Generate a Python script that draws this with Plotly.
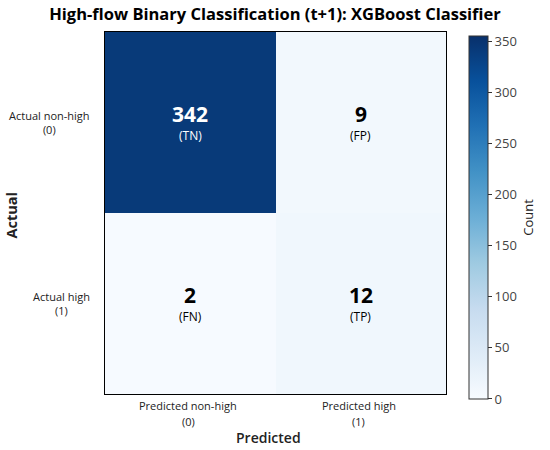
import plotly.graph_objects as go

pred_labels = ["Predicted non-high<br>(0)", "Predicted high<br>(1)"]
actual_labels = ["Actual non-high<br>(0)", "Actual high<br>(1)"]
counts = [[342, 9], [2, 12]]
cell_tags = [["(TN)", "(FP)"], ["(FN)", "(TP)"]]
cbar_ticks = [0, 50, 100, 150, 200, 250, 300, 350]
zmax_val = 355

blues = [
    [0.0, "#f7fbff"], [0.125, "#deebf7"], [0.25, "#c6dbef"], [0.375, "#9ecae1"],
    [0.5, "#6baed6"], [0.625, "#4292c6"], [0.75, "#2171b5"], [0.875, "#08519c"],
    [1.0, "#08306b"],
]

font_family = "Open Sans, Noto Sans, sans-serif"

fig = go.Figure(go.Heatmap(
    z=counts, x=pred_labels, y=actual_labels,
    colorscale=blues, zmin=0, zmax=zmax_val,
    showscale=True, hoverinfo="skip",
    colorbar=dict(
        title=dict(text="Count", side="right", font=dict(size=13, color="#222")),
        tickvals=cbar_ticks, ticks="outside", ticklen=4, tickcolor="#333",
        tickfont=dict(size=13, color="#444"),
        thickness=19, len=1.002, lenmode="fraction", y=0.4876, yanchor="middle",
        x=1.0686, xanchor="left", xpad=0, ypad=0,
        outlinewidth=1, outlinecolor="#333",
    ),
))

annotations = []
for i, row in enumerate(counts):
    for j, v in enumerate(row):
        color = "white" if v > zmax_val / 2 else "black"
        annotations.append(dict(
            x=pred_labels[j], y=actual_labels[i], text=f"<b>{v}</b>",
            showarrow=False, yshift=9, font=dict(size=21, color=color, family=font_family),
        ))
        annotations.append(dict(
            x=pred_labels[j], y=actual_labels[i], text=cell_tags[i][j],
            showarrow=False, yshift=-13, font=dict(size=12, color=color, family=font_family),
        ))

# y tick labels: block right-aligned, lines centred
for lab in actual_labels:
    annotations.append(dict(
        x=-0.037, xref="paper", xanchor="right", y=lab, yanchor="middle", text=lab,
        align="center", showarrow=False,
        font=dict(size=11, color="#222", family=font_family),
    ))

# x tick labels, one annotation per line
for lab in pred_labels:
    for k, line in enumerate(lab.split("<br>")):
        annotations.append(dict(
            x=lab, y=[-0.0331, -0.0773][k], yref="paper", xanchor="center", yanchor="middle",
            xshift=-2, text=line, showarrow=False,
            font=dict(size=11, color="#222", family=font_family),
        ))

# axis titles
annotations.append(dict(
    x=0.48, y=-0.1215, xref="paper", yref="paper", xanchor="center", yanchor="middle",
    text="Predicted", showarrow=False,
    font=dict(size=14, color="#222", family=font_family, weight=600),
))
annotations.append(dict(
    x=-0.2714, y=0.4945, xref="paper", yref="paper", xanchor="center", yanchor="middle",
    text="<b>Actual</b>", textangle=-90, showarrow=False,
    font=dict(size=14.5, color="#222", family=font_family),
))

fig.update_layout(
    width=550, height=450,
    margin=dict(l=105, r=95, t=32, b=56),
    paper_bgcolor="white", plot_bgcolor="white",
    font=dict(family=font_family, color="#222"),
    title=dict(text="<b>High-flow Binary Classification (t+1): XGBoost Classifier</b>",
               x=0.5, xanchor="center", y=0.969, yanchor="middle",
               font=dict(size=16.5, color="black")),
    annotations=annotations,
    hovermode=False,
    xaxis=dict(showticklabels=False, showline=True, linecolor="black", mirror=True,
               ticks="", automargin=False),
    yaxis=dict(showticklabels=False, showline=True, linecolor="black", mirror=True,
               ticks="", autorange="reversed", automargin=False),
)

fig.write_html("out.html", config={"displayModeBar": False},
               post_script="document.body.style.margin='0px';")
